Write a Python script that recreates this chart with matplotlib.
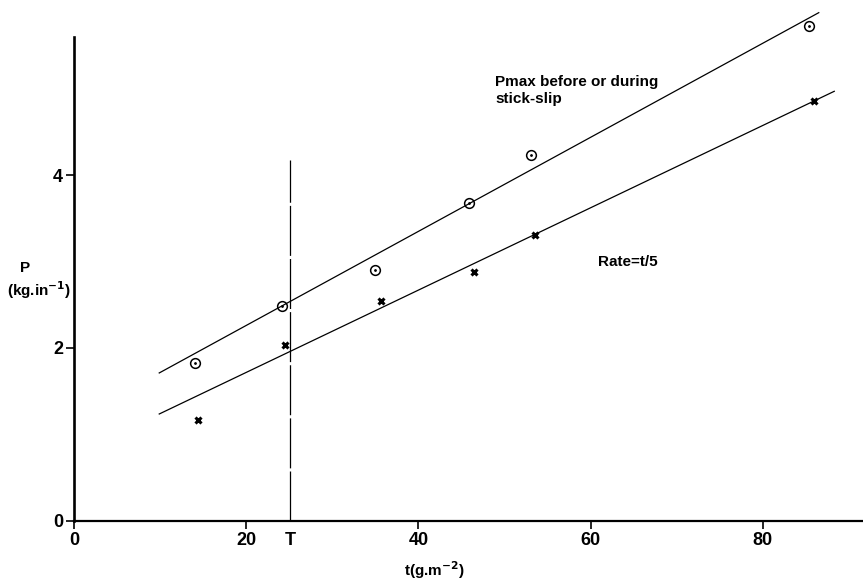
import matplotlib.pyplot as plt
import numpy as np

#   values
circle_t = [14.0, 24.2, 35.0, 45.9, 53.1, 85.4]
circle_p = [1.83, 2.49, 2.90, 3.68, 4.23, 5.73]
cross_t = [14.4, 24.5, 35.6, 46.5, 53.5, 85.9]
cross_p = [1.17, 2.03, 2.54, 2.88, 3.31, 4.86]

#   fitted lines (end points)
upper_t = [9.9, 86.5]
upper_p = [1.71, 5.88]
lower_t = [9.9, 88.3]
lower_p = [1.235, 4.97]

T = 25.1
T_top = 4.17

xticks = [0, 20, 40, 60, 80]
yticks = [0, 2, 4]

plt.rcParams['font.family'] = ['Liberation Sans Narrow', 'Liberation Sans', 'DejaVu Sans']
plt.rcParams['font.weight'] = 'bold'

fig = plt.figure(figsize=(8.63, 5.84), dpi=100)
ax = fig.add_axes([74 / 863, 63.3 / 584, 91.6 * 8.61 / 863, 6.0 * 86.4 / 584])
ax.set_xlim(0, 91.6)
ax.set_ylim(0, 6.0)

#   lines
ax.plot(upper_t, upper_p, color='black', lw=0.9, clip_on=False)
ax.plot(lower_t, lower_p, color='black', lw=0.9, clip_on=False)
ax.plot([T, T], [0, T_top], color='black', lw=0.9, dashes=(40, 2.5))

#   points
ax.plot(circle_t, circle_p, 'o', ms=7, mfc='none', mec='black', mew=1.1, clip_on=False)
ax.plot(circle_t, circle_p, '.', ms=2, color='black', clip_on=False)
ax.plot(cross_t, cross_p, 'x', ms=5, mec='black', mew=2.2, clip_on=False)

#   axes
for s in ['top', 'right']:
    ax.spines[s].set_visible(False)
ax.spines['left'].set_linewidth(1.9)
ax.spines['bottom'].set_linewidth(1.6)
ax.spines['left'].set_bounds(0, 5.6)

ax.set_xticks(xticks)
ax.set_xticklabels([str(v) for v in xticks])
ax.set_yticks(yticks)
ax.set_yticklabels([str(v) for v in yticks])
ax.set_xticks([T], minor=True)
ax.set_xticklabels(['T'], minor=True)
ax.tick_params(axis='both', which='major', direction='out', length=6, width=1.2,
               labelsize=13, pad=2)
ax.tick_params(axis='x', which='minor', length=0, labelsize=13, pad=8)
for lab in ax.get_xticklabels() + ax.get_yticklabels() + ax.get_xticklabels(minor=True):
    lab.set_fontweight('bold')

#   labels
fig.text(20 / 863, 1 - 268 / 584, 'P', fontsize=11, fontweight='bold', va='center', ha='left')
fig.text(7 / 863, 1 - 290 / 584, '(kg.in$^{\\mathbf{-1}}$)', fontsize=11, fontweight='bold',
         va='center', ha='left')
fig.text(434 / 863, 1 - 570 / 584, 't(g.m$^{\\mathbf{-2}}$)', fontsize=11, fontweight='bold',
         va='center', ha='center')

ax.text(48.9, 4.98, 'Pmax before or during\nstick-slip', fontsize=11, fontweight='bold',
        va='center', ha='left', linespacing=1.25)
ax.text(60.9, 2.99, 'Rate=t/5', fontsize=11, fontweight='bold', va='center', ha='left')

fig.savefig('out.png', dpi=100)
